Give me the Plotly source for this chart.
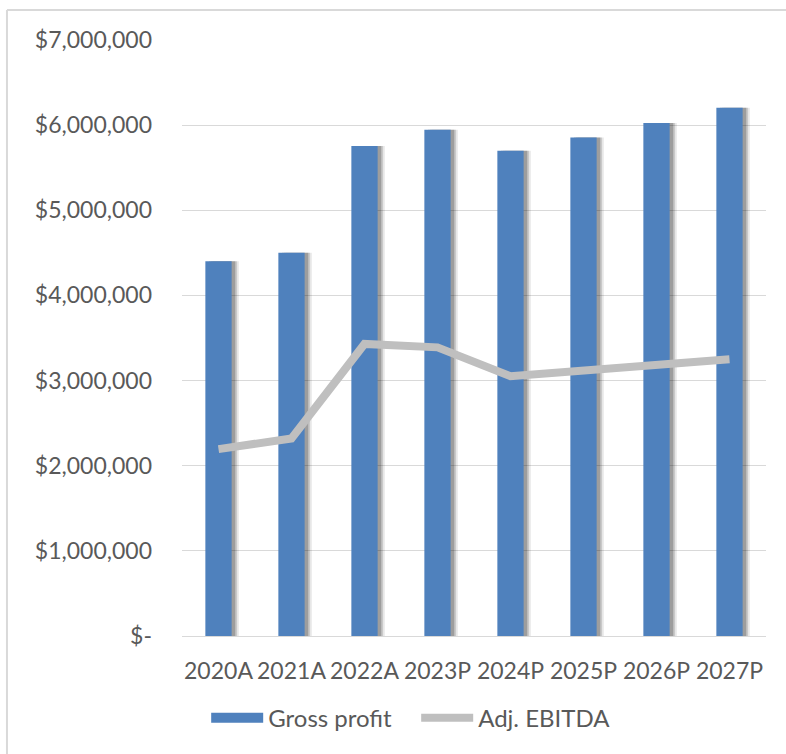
import plotly.graph_objects as go

categories = ["2020A", "2021A", "2022A", "2023P", "2024P", "2025P", "2026P", "2027P"]
gross_profit = [4400000, 4500000, 5755000, 5945000, 5700000, 5855000, 6025000, 6205000]
adj_ebitda = [2195000, 2320000, 3430000, 3390000, 3050000, 3110000, 3180000, 3250000]
tick_vals = [0, 1000000, 2000000, 3000000, 4000000, 5000000, 6000000, 7000000]
tick_text = ["$-", "$1,000,000", "$2,000,000", "$3,000,000", "$4,000,000",
             "$5,000,000", "$6,000,000", "$7,000,000"]

FONT = "Lato, 'Open Sans', sans-serif"
TXT = "#595959"
BLUE = "#4F81BD"
GRAY = "#BFBFBF"
BAR_W = 0.36

fig = go.Figure()
# soft shadow layers to the right of each bar
for off, col in [(0.1, "rgba(0,0,0,0.08)"), (0.075, "rgba(0,0,0,0.14)"), (0.05, "rgba(0,0,0,0.22)")]:
    fig.add_trace(go.Bar(
        x=categories, y=gross_profit, width=BAR_W, offset=-BAR_W / 2 + off,
        marker=dict(color=col, line=dict(width=0)), showlegend=False, hoverinfo="skip",
    ))
fig.add_trace(go.Bar(
    x=categories, y=gross_profit, name="Gross profit", width=BAR_W, offset=-BAR_W / 2,
    marker=dict(color=BLUE, line=dict(width=0)), showlegend=False,
))
fig.add_trace(go.Scatter(
    x=categories, y=adj_ebitda, name="Adj. EBITDA", mode="lines",
    line=dict(color=GRAY, width=8), showlegend=False,
))
# legend entries (wide swatches like the original)
fig.add_trace(go.Scatter(x=[None], y=[None], name="Gross profit", mode="lines",
                         line=dict(color=BLUE, width=10)))
fig.add_trace(go.Scatter(x=[None], y=[None], name="Adj. EBITDA", mode="lines",
                         line=dict(color=GRAY, width=8)))

fig.update_layout(
    width=786, height=754,
    margin=dict(l=182, r=20, t=40, b=118),
    paper_bgcolor="white", plot_bgcolor="white",
    font=dict(family=FONT, size=23, color=TXT),
    barmode="overlay",
    showlegend=True,
    legend=dict(orientation="h", xref="paper", x=0.401, xanchor="center",
                yref="container", y=0.0477, yanchor="middle",
                font=dict(size=24, color=TXT), itemwidth=52, entrywidth=143,
                traceorder="normal", itemclick=False),
    shapes=[
        dict(type="line", xref="paper", yref="paper", x0=-0.2997, x1=1.1,
             y0=1.0503, y1=1.0503, line=dict(color="#D9D9D9", width=2), layer="below"),
        dict(type="line", xref="paper", yref="paper", x0=-0.2997, x1=-0.2997,
             y0=1.0503, y1=-0.3, line=dict(color="#D9D9D9", width=2), layer="below"),
    ],
)
fig.update_xaxes(showgrid=False, showline=True, linecolor="#D9D9D9", linewidth=1,
                 ticks="", tickfont=dict(size=23, color=TXT), ticklabelstandoff=14,
                 automargin=False)
fig.update_yaxes(range=[0, 7000000], tickvals=tick_vals, ticktext=tick_text,
                 showgrid=True, gridcolor="#D9D9D9", gridwidth=1, zeroline=False,
                 showline=False, ticks="", tickfont=dict(size=23, color=TXT),
                 ticklabelstandoff=29, automargin=False)

fig.write_html("out.html", config={"displayModeBar": False},
               post_script="document.body.style.margin='0';document.body.style.overflow='hidden';")
